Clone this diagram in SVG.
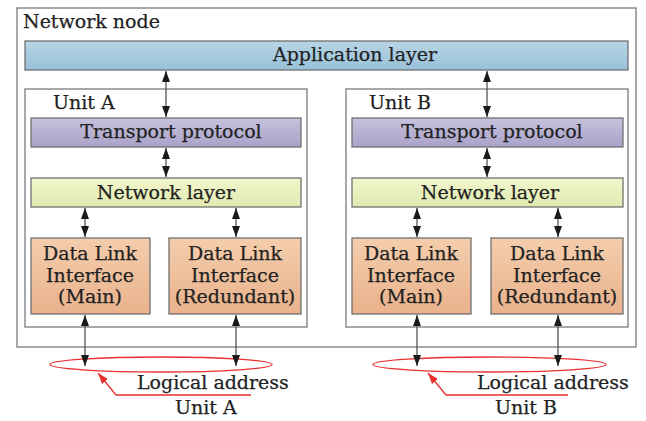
<svg xmlns="http://www.w3.org/2000/svg" width="646" height="421" viewBox="0 0 646 421">
  <defs>
    <linearGradient id="gApp" x1="0" y1="0" x2="0" y2="1">
      <stop offset="0" stop-color="#b8d5e5"/>
      <stop offset="1" stop-color="#98c1d9"/>
    </linearGradient>
    <linearGradient id="gTrans" x1="0" y1="0" x2="0" y2="1">
      <stop offset="0" stop-color="#c6c1dc"/>
      <stop offset="1" stop-color="#aaa2c9"/>
    </linearGradient>
    <linearGradient id="gNet" x1="0" y1="0" x2="0" y2="1">
      <stop offset="0" stop-color="#f1f6cc"/>
      <stop offset="1" stop-color="#e1ebb0"/>
    </linearGradient>
    <linearGradient id="gDl" x1="0" y1="0" x2="0" y2="1">
      <stop offset="0" stop-color="#f4cdac"/>
      <stop offset="1" stop-color="#e9b28c"/>
    </linearGradient>
    <marker id="ah" viewBox="0 0 11 10" refX="11" refY="5" markerWidth="11" markerHeight="10" markerUnits="userSpaceOnUse" orient="auto-start-reverse">
      <path d="M0,1 L11,5 L0,9 Z" fill="#1a1a1a"/>
    </marker>
    <marker id="ahRed" viewBox="0 0 10 10" refX="10" refY="5" markerWidth="11" markerHeight="11" markerUnits="userSpaceOnUse" orient="auto">
      <path d="M0,1.5 L10,5 L0,8.5 Z" fill="#e8312f"/>
    </marker>
  </defs>
  <style>
    text { font-family: "DejaVu Serif", "Liberation Serif", serif; font-size: 19px; fill: #222; stroke: #222; stroke-width: 0.25; }
    .mid { text-anchor: middle; }
    .frame { fill: #fff; stroke: #7a7a7a; stroke-width: 1.3; }
    .box { stroke: #707070; stroke-width: 1.3; }
    .link { stroke: #555; stroke-width: 1.3; fill: none; marker-start: url(#ah); marker-end: url(#ah); }
    .addr { fill: none; stroke: #e8312f; stroke-width: 1.3; }
  </style>

  <g id="network-node">
    <rect class="frame" x="17" y="8" width="619" height="339"/>
    <text x="23" y="28">Network node</text>
  </g>

  <g id="application-layer">
    <rect class="box" x="25" y="41" width="603" height="29" fill="url(#gApp)"/>
    <text class="mid" x="355" y="61">Application layer</text>
  </g>

  <g id="unit-a">
    <rect class="frame" x="25" y="89" width="282" height="238"/>
    <text x="53" y="109">Unit A</text>
  </g>
  <g id="transport-a">
    <rect class="box" x="31" y="118" width="270" height="29" fill="url(#gTrans)"/>
    <text class="mid" x="171" y="138">Transport protocol</text>
  </g>
  <g id="network-a">
    <rect class="box" x="31" y="178" width="270" height="29" fill="url(#gNet)"/>
    <text class="mid" x="166" y="199">Network layer</text>
  </g>
  <g id="dl-main-a">
    <rect class="box" x="31" y="238" width="119" height="76" fill="url(#gDl)"/>
    <text class="mid" x="90" y="260">Data Link</text>
    <text class="mid" x="90" y="282">Interface</text>
    <text class="mid" x="90" y="303">(Main)</text>
  </g>
  <g id="dl-red-a">
    <rect class="box" x="169" y="238" width="132" height="76" fill="url(#gDl)"/>
    <text class="mid" x="235" y="260">Data Link</text>
    <text class="mid" x="235" y="282">Interface</text>
    <text class="mid" x="235" y="303">(Redundant)</text>
  </g>

  <g id="unit-b">
    <rect class="frame" x="346" y="89" width="282" height="238"/>
    <text x="369" y="109">Unit B</text>
  </g>
  <g id="transport-b">
    <rect class="box" x="352" y="118" width="271" height="29" fill="url(#gTrans)"/>
    <text class="mid" x="492" y="138">Transport protocol</text>
  </g>
  <g id="network-b">
    <rect class="box" x="352" y="178" width="271" height="29" fill="url(#gNet)"/>
    <text class="mid" x="490" y="199">Network layer</text>
  </g>
  <g id="dl-main-b">
    <rect class="box" x="352" y="238" width="119" height="76" fill="url(#gDl)"/>
    <text class="mid" x="411" y="260">Data Link</text>
    <text class="mid" x="411" y="282">Interface</text>
    <text class="mid" x="411" y="303">(Main)</text>
  </g>
  <g id="dl-red-b">
    <rect class="box" x="491" y="238" width="132" height="76" fill="url(#gDl)"/>
    <text class="mid" x="557" y="260">Data Link</text>
    <text class="mid" x="557" y="282">Interface</text>
    <text class="mid" x="557" y="303">(Redundant)</text>
  </g>

  <g id="logical-address-a">
    <ellipse class="addr" cx="161" cy="364.5" rx="111" ry="7.5"/>
    <polyline class="addr" points="251,395 116,395 98,373" marker-end="url(#ahRed)"/>
    <text x="137" y="389">Logical address</text>
    <text x="175" y="414">Unit A</text>
  </g>
  <g id="logical-address-b">
    <ellipse class="addr" cx="489.5" cy="364.5" rx="116.5" ry="7.5"/>
    <polyline class="addr" points="568,395 446,395 428,373" marker-end="url(#ahRed)"/>
    <text x="477" y="389">Logical address</text>
    <text x="495" y="414">Unit B</text>
  </g>

  <g id="connectors">
    <line class="link" x1="166" y1="71" x2="166" y2="117"/>
    <line class="link" x1="166" y1="148" x2="166" y2="177"/>
    <line class="link" x1="85" y1="208" x2="85" y2="237"/>
    <line class="link" x1="236" y1="208" x2="236" y2="237"/>
    <line class="link" x1="85" y1="315" x2="85" y2="366"/>
    <line class="link" x1="236" y1="315" x2="236" y2="366"/>
    <line class="link" x1="487" y1="71" x2="487" y2="117"/>
    <line class="link" x1="487" y1="148" x2="487" y2="177"/>
    <line class="link" x1="417" y1="208" x2="417" y2="237"/>
    <line class="link" x1="558" y1="208" x2="558" y2="237"/>
    <line class="link" x1="417" y1="315" x2="417" y2="366"/>
    <line class="link" x1="558" y1="315" x2="558" y2="366"/>
  </g>
</svg>
